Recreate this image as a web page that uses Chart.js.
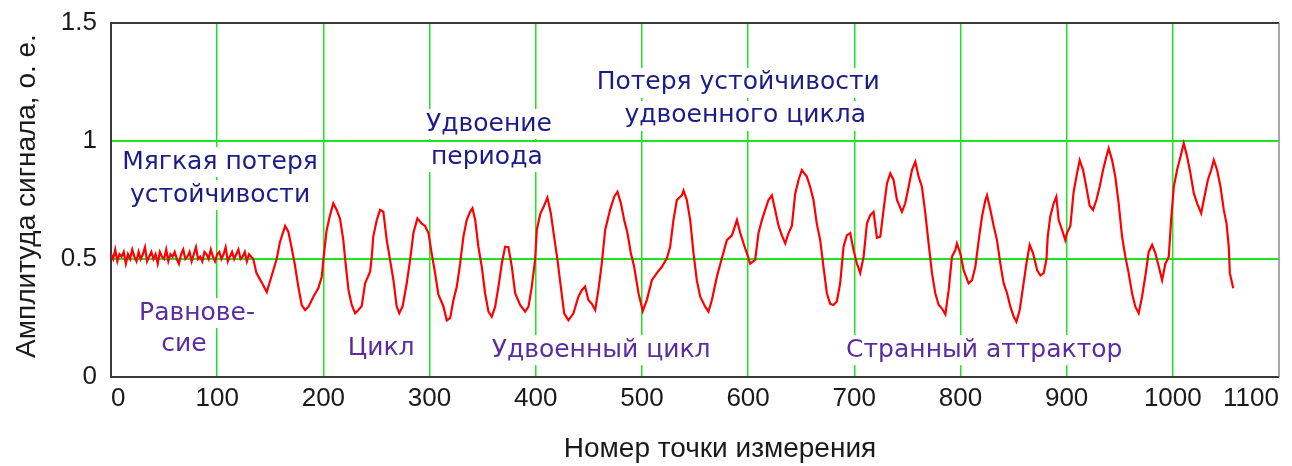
<!DOCTYPE html>
<html>
<head>
<meta charset="utf-8">
<script src="https://cdn.jsdelivr.net/npm/chart.js@4.4.1/dist/chart.umd.min.js"></script>
<style>
  html, body { margin: 0; padding: 0; background: #ffffff; }
  canvas { display: block; }
</style>
</head>
<body>
<canvas id="chart" width="1292" height="466"></canvas>
<script>
// Measurement point numbers
const sampleIndex = [
  0, 2, 4, 6, 8, 10, 12, 14, 16, 18, 20, 22, 24, 26, 28, 30, 32, 34, 36, 38,
  40, 42, 44, 46, 48, 50, 52, 54, 56, 58, 60, 62, 64, 66, 68, 70, 72, 74, 76, 78,
  80, 82, 84, 86, 88, 90, 92, 94, 96, 98, 100, 102, 104, 106, 108, 110, 112, 114, 116, 118,
  120, 122, 124, 126, 128, 130, 132,
  134, 137, 142, 146.7, 151.4, 156, 159, 164, 167, 170, 173, 176.5, 179.6, 182.8, 186, 190.6, 195.3, 198.5,
  200, 203, 206.3, 209.4, 212.6, 215.7, 218.8, 220.5, 223.6, 226.7, 229.9, 233, 236.1, 239.3, 244, 245.6,
  247, 250.3, 253.4, 256.5, 259.7, 262.8, 266, 269, 271.5, 274.7, 278.5, 281.7, 284.8, 288.6, 292.7, 295.8,
  299, 302, 305.2, 308.3, 313, 316.2, 319.4, 322.5, 325.7, 328.8, 331.9, 335, 338.2, 340.4, 343, 346,
  349.2, 352.3, 355.5, 358.6, 361.8, 364.9, 368, 371.2, 374.3, 377.5, 380.6, 385.3, 390, 393.2, 396.3, 399.4,
  401, 404.2, 407.3, 411, 414.2, 417.3, 420.5, 423.6, 426.8, 430.8, 435.5, 440.2, 443.4, 446.5, 449.6, 452.8,
  456, 459, 462.2, 465.4, 470, 473.9, 477, 480.2, 483.3, 486.4, 489.6, 492.7, 496.8, 500.8, 504.6, 509.4,
  514, 518.8, 523.5, 526.6, 529.7, 532.9, 537.6, 539.2, 542.3, 545.5, 548.6, 551.7, 554.9, 559.6, 562.7, 565.9,
  570.6, 575.3, 580, 584.8, 589.5, 592.6, 595.7, 598.9, 602, 606.7, 609.8, 613, 616.1, 619.2, 622.4, 625.5,
  628.7, 631.8, 635, 638.1, 641.2, 644.4, 647.5, 650.6, 655.3, 658.4, 661.6, 664.7, 667.9, 671, 674.2, 677.3,
  680.4, 683.6, 686.7, 689.9, 693, 696.2, 699.3, 702.5, 705.6, 708.8, 711.9, 715, 718.2, 721.3, 724.5, 727.6,
  730.8, 733.9, 737, 740.2, 744.9, 748, 751.2, 754.3, 757.5, 760.6, 763.7, 766.9, 770, 773.2, 776.3, 779.5,
  782.6, 785.8, 788.9, 792, 795.2, 796.7, 799.8, 803, 807.7, 810.9, 814, 817.2, 820.3, 823.5, 825, 828.2,
  831.3, 834.4, 837.6, 840.7, 843.9, 847, 850.2, 852.7, 855.8, 859, 862.1, 865.2, 868.4, 872.2, 875.3, 878.4,
  881, 882.2, 884.6, 887.8, 890.3, 892.5, 895.7, 898.7, 900.3, 903.5, 906.6, 909.8, 912.3, 915.5, 918.5, 921.7,
  924.9, 928, 931.1, 934.3, 937.4, 939.6, 942.8, 945.8, 949, 952.2, 955.3, 958.4, 961.6, 964.7, 967.9, 971,
  974.2, 977.3, 980.5, 983.6, 986.8, 989.9, 993, 996.2, 998.4, 1000.9, 1004, 1007.2, 1010.3, 1013.5, 1016.6, 1019.8,
  1022.9, 1026.7, 1029.8, 1033, 1036.1, 1038.6, 1041.7, 1044.9, 1048, 1050.6, 1052.7, 1053.7, 1056.9
];

// Signal amplitude, relative units
const amplitude = [
  0.52, 0.50, 0.54, 0.49, 0.52, 0.51, 0.53, 0.48, 0.52, 0.50, 0.54, 0.51, 0.49, 0.53, 0.50, 0.52, 0.55, 0.49, 0.51, 0.53,
  0.50, 0.52, 0.48, 0.53, 0.51, 0.50, 0.54, 0.49, 0.52, 0.51, 0.53, 0.50, 0.48, 0.52, 0.54, 0.50, 0.51, 0.53, 0.49, 0.52,
  0.55, 0.50, 0.51, 0.49, 0.53, 0.52, 0.50, 0.54, 0.51, 0.49, 0.52, 0.53, 0.50, 0.52, 0.55, 0.49, 0.51, 0.53, 0.50, 0.52,
  0.54, 0.50, 0.51, 0.53, 0.49, 0.52, 0.51,
  0.50, 0.44, 0.40, 0.36, 0.43, 0.50, 0.57, 0.64, 0.616, 0.55, 0.48, 0.38, 0.305, 0.284, 0.298, 0.34, 0.377, 0.425,
  0.496, 0.62, 0.686, 0.736, 0.708, 0.67, 0.58, 0.50, 0.37, 0.305, 0.27, 0.284, 0.30, 0.397, 0.446, 0.51,
  0.595, 0.665, 0.708, 0.70, 0.58, 0.496, 0.41, 0.30, 0.27, 0.30, 0.397, 0.496, 0.61, 0.672, 0.65, 0.64,
  0.61, 0.524, 0.44, 0.35, 0.30, 0.24, 0.25, 0.326, 0.383, 0.48, 0.595, 0.665, 0.70, 0.715, 0.665, 0.552,
  0.467, 0.355, 0.277, 0.255, 0.298, 0.383, 0.48, 0.552, 0.55, 0.467, 0.355, 0.305, 0.277, 0.298, 0.383, 0.496,
  0.623, 0.69, 0.72, 0.76, 0.694, 0.595, 0.496, 0.383, 0.27, 0.24, 0.27, 0.34, 0.368, 0.383, 0.326, 0.31,
  0.284, 0.368, 0.48, 0.623, 0.708, 0.764, 0.785, 0.736, 0.665, 0.61, 0.524, 0.467, 0.355, 0.28, 0.326, 0.41,
  0.44, 0.467, 0.503, 0.552, 0.665, 0.75, 0.77, 0.79, 0.75, 0.665, 0.524, 0.41, 0.34, 0.298, 0.277, 0.326,
  0.425, 0.503, 0.58, 0.60, 0.665, 0.61, 0.566, 0.524, 0.48, 0.496, 0.61, 0.665, 0.708, 0.75, 0.77, 0.708,
  0.64, 0.60, 0.566, 0.61, 0.64, 0.778, 0.835, 0.877, 0.849, 0.806, 0.75, 0.65, 0.58, 0.467, 0.355, 0.31,
  0.305, 0.32, 0.397, 0.552, 0.60, 0.61, 0.538, 0.48, 0.44, 0.51, 0.65, 0.686, 0.70, 0.59, 0.595, 0.708,
  0.82, 0.863, 0.835, 0.75, 0.70, 0.736, 0.806, 0.877, 0.912, 0.849, 0.806, 0.694, 0.566, 0.44, 0.355, 0.305,
  0.29, 0.265, 0.368, 0.51, 0.538, 0.566, 0.524, 0.453, 0.397, 0.41, 0.467, 0.58, 0.68, 0.75, 0.77, 0.708,
  0.64, 0.58, 0.48, 0.397, 0.355, 0.298, 0.255, 0.234, 0.284, 0.383, 0.48, 0.56, 0.524, 0.453, 0.43, 0.44,
  0.50, 0.595, 0.68, 0.736, 0.764, 0.665, 0.623, 0.58, 0.61, 0.64, 0.785, 0.863, 0.919, 0.877, 0.806, 0.726,
  0.708, 0.75, 0.806, 0.877, 0.933, 0.969, 0.919, 0.849, 0.736, 0.595, 0.51, 0.44, 0.355, 0.298, 0.27, 0.34,
  0.43, 0.53, 0.56, 0.524, 0.467, 0.41, 0.48, 0.51, 0.665, 0.806, 0.877, 0.933, 0.99, 0.933, 0.863, 0.778,
  0.736, 0.694, 0.764, 0.835, 0.877, 0.919, 0.877, 0.806, 0.708, 0.65, 0.552, 0.44, 0.376
];

// Axis ticks
const xTickValues = [0, 100, 200, 300, 400, 500, 600, 700, 800, 900, 1000, 1100];
const yTickValues = [0, 0.5, 1, 1.5];

const xAxisTitle = 'Номер точки измерения';
const yAxisTitle = 'Амплитуда сигнала, о. е.';

// Regime captions placed in axis units
const NAVY = '#1c1c88';
const VIOLET = '#5a2ca0';
const regimeNotes = [
  { text: 'Мягкая потеря', x: 102.7, y: 0.911, color: NAVY },
  { text: 'устойчивости', x: 102.7, y: 0.771, color: NAVY },
  { text: 'Удвоение', x: 356, y: 1.072, color: NAVY },
  { text: 'периода', x: 354, y: 0.932, color: NAVY },
  { text: 'Потеря устойчивости', x: 590.7, y: 1.246, color: NAVY },
  { text: 'удвоенного цикла', x: 597.3, y: 1.106, color: NAVY },
  { text: 'Равнове-', x: 81, y: 0.271, color: VIOLET },
  { text: 'сие', x: 68.8, y: 0.136, color: VIOLET },
  { text: 'Цикл', x: 254.4, y: 0.119, color: VIOLET },
  { text: 'Удвоенный цикл', x: 461.6, y: 0.114, color: VIOLET },
  { text: 'Странный аттрактор', x: 822.4, y: 0.114, color: VIOLET }
];

const GRID_GREEN = '#1ee61e';
const TICK_FONT = { family: '"Liberation Sans Narrow", "Liberation Sans", Arial, sans-serif', size: 26 };

const points = sampleIndex.map((v, i) => ({ x: v, y: amplitude[i] }));

const notesAndFrame = {
  id: 'notesAndFrame',
  beforeDatasetsDraw(chart) {
    const { ctx, chartArea: a, scales: { x, y } } = chart;
    ctx.save();
    // frame of the plot area
    ctx.lineWidth = 2;
    ctx.strokeStyle = '#3a3a3a';
    ctx.beginPath();
    ctx.moveTo(a.right, a.top);
    ctx.lineTo(a.left, a.top);
    ctx.lineTo(a.left, a.bottom);
    ctx.lineTo(a.right, a.bottom);
    ctx.stroke();
    ctx.lineWidth = 1.5;
    ctx.strokeStyle = '#8a8a8a';
    ctx.beginPath();
    ctx.moveTo(a.right, a.top);
    ctx.lineTo(a.right, a.bottom);
    ctx.stroke();

    // regime captions on white plates
    ctx.font = '25px "DejaVu Sans", Verdana, sans-serif';
    ctx.textAlign = 'center';
    ctx.textBaseline = 'middle';
    regimeNotes.forEach(n => {
      const cx = x.getPixelForValue(n.x);
      const cy = y.getPixelForValue(n.y);
      const w = ctx.measureText(n.text).width;
      ctx.fillStyle = '#ffffff';
      ctx.fillRect(cx - w / 2 - 3, cy - 15, w + 6, 30);
      ctx.fillStyle = n.color;
      ctx.fillText(n.text, cx, cy);
    });
    ctx.restore();
  },
  afterDraw(chart) {
    const { ctx } = chart;
    ctx.save();
    ctx.fillStyle = '#1a1a1a';
    ctx.font = '28px "Liberation Sans", Arial, sans-serif';
    ctx.textAlign = 'center';
    ctx.textBaseline = 'middle';
    ctx.fillText(xAxisTitle, 720, 449);
    ctx.translate(27, 196);
    ctx.rotate(-Math.PI / 2);
    ctx.fillText(yAxisTitle, 0, 0);
    ctx.restore();
  }
};

new Chart(document.getElementById('chart'), {
  type: 'line',
  data: {
    datasets: [{
      data: points,
      borderColor: '#ff0000',
      borderWidth: 2.2,
      pointRadius: 0,
      tension: 0,
      fill: false
    }]
  },
  options: {
    responsive: false,
    animation: false,
    devicePixelRatio: 1,
    layout: { padding: { left: 0, right: 13, top: 23, bottom: 0 } },
    plugins: { legend: { display: false }, tooltip: { enabled: false } },
    scales: {
      x: {
        type: 'linear',
        min: 0,
        max: 1100,
        afterBuildTicks: s => { s.ticks = xTickValues.map(v => ({ value: v })); },
        afterFit: s => { s.height = 89; s.paddingLeft = 0; s.paddingRight = 0; },
        border: { display: false },
        grid: {
          drawTicks: false,
          lineWidth: 1.5,
          color: c => (c.tick && (c.tick.value === 0 || c.tick.value === 1100)) ? 'rgba(0,0,0,0)' : GRID_GREEN
        },
        ticks: {
          align: 'inner',
          padding: 6,
          color: '#1a1a1a',
          font: TICK_FONT,
          maxRotation: 0,
          autoSkip: false,
          callback: v => String(v)
        }
      },
      y: {
        type: 'linear',
        min: 0,
        max: 1.5,
        afterBuildTicks: s => { s.ticks = yTickValues.map(v => ({ value: v })); },
        afterFit: s => { s.width = 111; s.paddingTop = 0; s.paddingBottom = 0; },
        border: { display: false },
        grid: {
          drawTicks: false,
          lineWidth: 2,
          color: c => (c.tick && (c.tick.value === 0 || c.tick.value === 1.5)) ? 'rgba(0,0,0,0)' : GRID_GREEN
        },
        ticks: {
          padding: 14,
          color: '#1a1a1a',
          font: TICK_FONT,
          autoSkip: false,
          callback: v => String(v)
        }
      }
    }
  },
  plugins: [notesAndFrame]
});
</script>
</body>
</html>
